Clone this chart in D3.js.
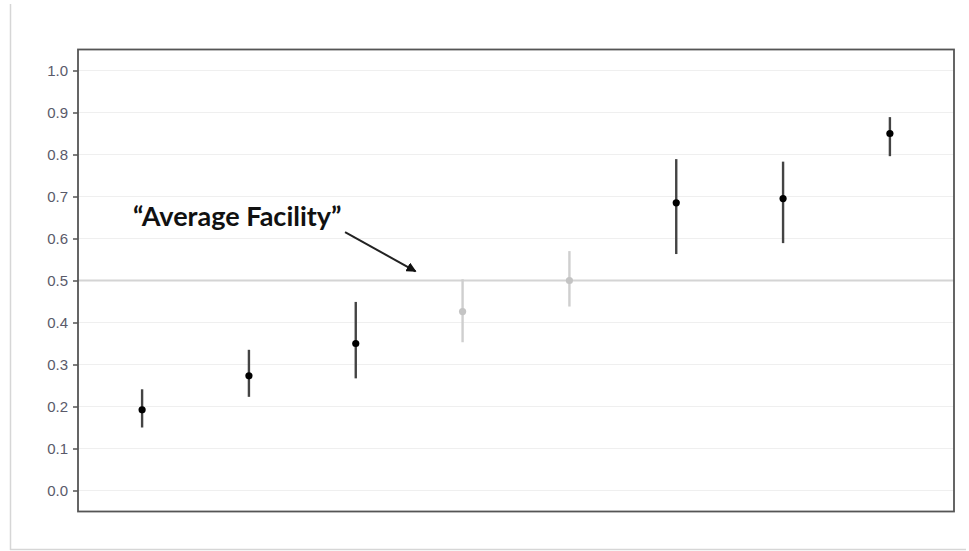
<!DOCTYPE html>
<html>
<head>
<meta charset="utf-8">
<script src="https://cdn.jsdelivr.net/npm/d3@7"></script>
<style>
  body { margin: 0; background: #fff; }
  svg { display: block; }
</style>
</head>
<body>
<svg width="969" height="551"></svg>
<script>
// facility estimates with intervals
var facilities = [1, 2, 3, 4, 5, 6, 7, 8],
    estimate = [0.192, 0.273, 0.350, 0.426, 0.500, 0.685, 0.695, 0.850],
    lower    = [0.150, 0.223, 0.267, 0.353, 0.438, 0.563, 0.589, 0.796],
    upper    = [0.241, 0.335, 0.449, 0.503, 0.570, 0.789, 0.783, 0.889],
    faded    = [false, false, false, true, true, false, false, false];

var yTicks = [0, 0.1, 0.2, 0.3, 0.4, 0.5, 0.6, 0.7, 0.8, 0.9, 1.0],
    refLine = 0.5,
    noteText = "\u201CAverage Facility\u201D";

var svg = d3.select("svg"),
    width = +svg.attr("width"),
    height = +svg.attr("height");

var margin = {top: 49.5, right: 15, bottom: 39.5, left: 78};
var pw = width - margin.left - margin.right,
    ph = height - margin.top - margin.bottom;

// outer frame (only left and bottom edges visible)
svg.append("line").attr("x1", 10.5).attr("x2", 10.5).attr("y1", 4).attr("y2", 550)
    .attr("stroke", "#d6d6d6").attr("stroke-width", 1.5);
svg.append("line").attr("x1", 10).attr("x2", 966).attr("y1", 549.5).attr("y2", 549.5)
    .attr("stroke", "#d6d6d6").attr("stroke-width", 1.5);

var x = d3.scaleLinear().domain([0.4, 8.6]).range([0, pw]);
var y = d3.scaleLinear().domain([-0.05, 1.05]).range([ph, 0]);

var g = svg.append("g").attr("transform", "translate(" + margin.left + "," + margin.top + ")");

// grid
g.selectAll("line.grid").data(yTicks).enter().append("line")
    .attr("class", "grid")
    .attr("x1", 0).attr("x2", pw)
    .attr("y1", function(d) { return y(d); }).attr("y2", function(d) { return y(d); })
    .attr("stroke", "#efefef").attr("stroke-width", 1.2);

// reference line at 0.5
g.append("line").attr("x1", 0).attr("x2", pw)
    .attr("y1", y(refLine)).attr("y2", y(refLine))
    .attr("stroke", "#d4d4d4").attr("stroke-width", 2);

// y axis
var yAxis = d3.axisLeft(y).tickValues(yTicks).tickFormat(d3.format(".1f")).tickSize(5).tickPadding(5);
var ya = g.append("g").call(yAxis);
ya.select(".domain").remove();
ya.selectAll(".tick line").attr("stroke", "#555").attr("stroke-width", 1.5);
ya.selectAll(".tick text").attr("fill", "#5a5a6a")
    .style("font-family", "'Liberation Sans', Arial, sans-serif").style("font-size", "15px");

// error bars
var idx = d3.range(facilities.length);
g.selectAll("line.err").data(idx).enter().append("line")
    .attr("class", "err")
    .attr("x1", function(i) { return x(facilities[i]); })
    .attr("x2", function(i) { return x(facilities[i]); })
    .attr("y1", function(i) { return y(lower[i]); })
    .attr("y2", function(i) { return y(upper[i]); })
    .attr("stroke", function(i) { return faded[i] ? "#cfcfcf" : "#444"; })
    .attr("stroke-width", 2.4);

g.selectAll("circle.pt").data(idx).enter().append("circle")
    .attr("class", "pt")
    .attr("cx", function(i) { return x(facilities[i]); })
    .attr("cy", function(i) { return y(estimate[i]); })
    .attr("r", 3.6)
    .attr("fill", function(i) { return faded[i] ? "#c4c4c4" : "#000"; });

// panel border
g.append("rect").attr("x", 0).attr("y", 0).attr("width", pw).attr("height", ph)
    .attr("fill", "none").attr("stroke", "#555").attr("stroke-width", 1.8);

// annotation
svg.append("defs").append("marker")
    .attr("id", "arrow").attr("viewBox", "0 0 10 10")
    .attr("refX", 9).attr("refY", 5)
    .attr("markerWidth", 5).attr("markerHeight", 5)
    .attr("markerUnits", "strokeWidth")
    .attr("orient", "auto")
  .append("path").attr("d", "M0,0 L10,5 L0,10 z").attr("fill", "#111");

g.append("text")
    .attr("x", x(0.915)).attr("y", y(0.63))
    .attr("fill", "#111")
    .style("font-family", "Lato, 'Open Sans', sans-serif")
    .style("font-weight", "bold")
    .style("font-size", "27px")
    .text(noteText);

g.append("line")
    .attr("x1", x(2.9)).attr("y1", y(0.615))
    .attr("x2", x(3.56)).attr("y2", y(0.522))
    .attr("stroke", "#222").attr("stroke-width", 2)
    .attr("marker-end", "url(#arrow)");
</script>
</body>
</html>
